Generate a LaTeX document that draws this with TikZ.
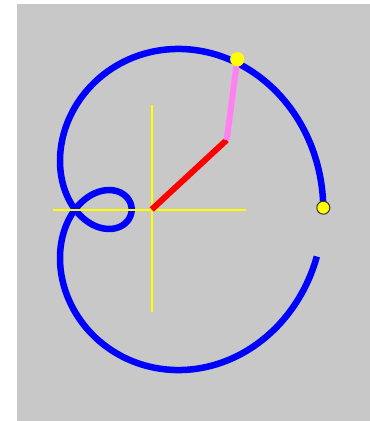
\documentclass[tikz,border=0pt]{standalone}
\definecolor{bggray}{RGB}{200,200,200}
\definecolor{curveblue}{RGB}{0,0,255}
\definecolor{armred}{RGB}{255,0,0}
\definecolor{armpink}{RGB}{255,128,240}
\definecolor{markyellow}{RGB}{255,255,0}
\tikzset{
  trace/.style={draw=curveblue, line width=6.5pt, line join=round},
  cross/.style={draw=markyellow, line width=2pt},
  arm1/.style={draw=armred, line width=6pt},
  arm2/.style={draw=armpink, line width=6pt},
  tipdot/.style={circle, fill=markyellow, inner sep=0pt, minimum size=14pt},
  startdot/.style={circle, fill=markyellow, draw=black!80, line width=1pt, inner sep=0pt, minimum size=13pt}
}
\begin{document}
\begin{tikzpicture}[x=1pt,y=-1pt]
\useasboundingbox (0,0) rectangle (370,421);
\fill[bggray] (17,4) rectangle (370,421);
% traced curve
\draw[trace] plot[domain=0:349.7,samples=300,smooth]
  ({151.25+95.8*cos(\x)+76.2*cos(2*\x)},{209.5-102.5*sin(\x)-81.5*sin(2*\x)});
% crosshair
\coordinate (o) at (151.7,209.5);
\coordinate (vt) at (151.7,105);
\coordinate (vb) at (151.7,311.7);
\coordinate (hl) at (53.3,209.5);
\coordinate (hr) at (245.7,209.5);
\draw[cross] (vt) -- (vb);
\draw[cross] (hl) -- (hr);
% arms
\coordinate (j) at (226.7,140);
\node[tipdot] (tip) at (237.3,59.3) {};
\draw[arm1] (o) -- (j);
\draw[arm2] (j) -- (tip.center);
\node[tipdot] at (tip.center) {};
\node[startdot] (start) at (323.3,207.7) {};
\end{tikzpicture}
\end{document}
